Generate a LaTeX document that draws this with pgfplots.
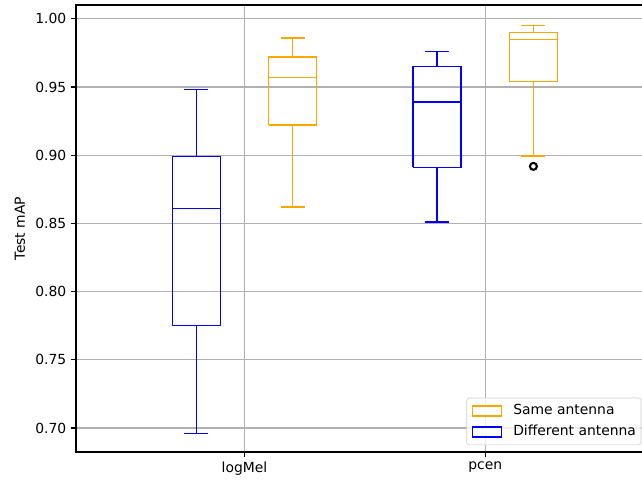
\documentclass[border=0pt]{standalone}
\usepackage{pgfplots}
\pgfplotsset{compat=1.18}
\usepackage{fontspec}
\setmainfont{DejaVu Sans}
\definecolor{mplorange}{HTML}{FFA500}
\definecolor{mplblue}{HTML}{0000FF}
\definecolor{gridgray}{HTML}{B0B0B0}
\definecolor{leggray}{HTML}{CCCCCC}
\pgfplotsset{legbox/.style={legend image code/.code={%
  \draw[##1, sharp corners] (0pt,-3.6pt) rectangle (20.9pt,3.6pt);
  \path[draw=none, fill=none] (0pt,0pt) -- (29.5pt,0pt);}}}
\begin{document}
\begin{tikzpicture}
\path[use as bounding box] (0,0) rectangle (462.24pt,345.6pt);
\begin{axis}[
  at={(54.72pt,20.16pt)}, anchor=south west,
  width=416pt, height=321.84pt, scale only axis,
  xmin=0.3, xmax=2.7, ymin=0.6824, ymax=1.0101,
  xtick={1,2}, xticklabels={logMel,pcen},
  ytick={0.70,0.75,0.80,0.85,0.90,0.95,1.00},
  yticklabel style={/pgf/number format/.cd, fixed, fixed zerofill, precision=2},
  /pgf/number format/assume math mode=true,
  ylabel={Test mAP},
  ylabel style={at={(axis description cs:0,0.5)}, anchor=center, yshift=40.32pt},
  tick label style={font=\fontsize{10}{12}\selectfont},
  label style={font=\fontsize{10}{12}\selectfont},
  grid=major, major grid style={gridgray, line width=0.8pt},
  axis line style={black, line width=0.8pt},
  tick style={black, line width=0.8pt},
  tick align=outside, major tick length=3.5pt,
  xtick pos=bottom, ytick pos=left,
  unbounded coords=jump,
  legend style={at={(1,0)}, anchor=south east, xshift=-9pt, yshift=5pt,
    draw=leggray, rounded corners=2pt, fill=white, fill opacity=0.8, text opacity=1,
    font=\fontsize{10}{12}\selectfont, inner xsep=3.6pt, inner ysep=4.5pt,
    row sep=5.5pt,
    nodes={inner sep=0pt, text height=7.6pt, text depth=2pt}},
  legend cell align=left,
]
\addlegendimage{legbox, draw=mplorange, line width=1pt, fill=white}
\addlegendentry{Same antenna}
\addlegendimage{legbox, draw=mplblue, line width=1pt, fill=white}
\addlegendentry{Different antenna}

% logMel, different antenna: whisker 0.696, Q1 0.775, median 0.861, Q3 0.899, whisker 0.948
\addplot[forget plot, mplblue, line width=1pt, mark=none] coordinates {
  (0.7,0.775) (0.9,0.775) (0.9,0.899) (0.7,0.899) (0.7,0.775) (nan,nan)
  (0.7,0.861) (0.9,0.861) (nan,nan)
  (0.8,0.775) (0.8,0.696) (nan,nan)
  (0.75,0.696) (0.85,0.696) (nan,nan)
  (0.8,0.899) (0.8,0.948) (nan,nan)
  (0.75,0.948) (0.85,0.948)};
% logMel, same antenna: 0.862, 0.922, 0.957, 0.972, 0.986
\addplot[forget plot, mplorange, line width=1pt, mark=none] coordinates {
  (1.1,0.922) (1.3,0.922) (1.3,0.972) (1.1,0.972) (1.1,0.922) (nan,nan)
  (1.1,0.957) (1.3,0.957) (nan,nan)
  (1.2,0.922) (1.2,0.862) (nan,nan)
  (1.15,0.862) (1.25,0.862) (nan,nan)
  (1.2,0.972) (1.2,0.986) (nan,nan)
  (1.15,0.986) (1.25,0.986)};
% pcen, different antenna: 0.851, 0.891, 0.939, 0.965, 0.976
\addplot[forget plot, mplblue, line width=1pt, mark=none] coordinates {
  (1.7,0.891) (1.9,0.891) (1.9,0.965) (1.7,0.965) (1.7,0.891) (nan,nan)
  (1.7,0.939) (1.9,0.939) (nan,nan)
  (1.8,0.891) (1.8,0.851) (nan,nan)
  (1.75,0.851) (1.85,0.851) (nan,nan)
  (1.8,0.965) (1.8,0.976) (nan,nan)
  (1.75,0.976) (1.85,0.976)};
% pcen, same antenna: 0.8995, 0.954, 0.985, 0.990, 0.995
\addplot[forget plot, mplorange, line width=1pt, mark=none] coordinates {
  (2.1,0.954) (2.3,0.954) (2.3,0.990) (2.1,0.990) (2.1,0.954) (nan,nan)
  (2.1,0.985) (2.3,0.985) (nan,nan)
  (2.2,0.954) (2.2,0.8995) (nan,nan)
  (2.15,0.8995) (2.25,0.8995) (nan,nan)
  (2.2,0.990) (2.2,0.995) (nan,nan)
  (2.15,0.995) (2.25,0.995)};
% outlier
\addplot[forget plot, only marks, mark=o, mark size=2.5pt, black,
  mark options={line width=1.5pt}] coordinates {(2.2,0.8918)};
\end{axis}
\end{tikzpicture}
\end{document}
